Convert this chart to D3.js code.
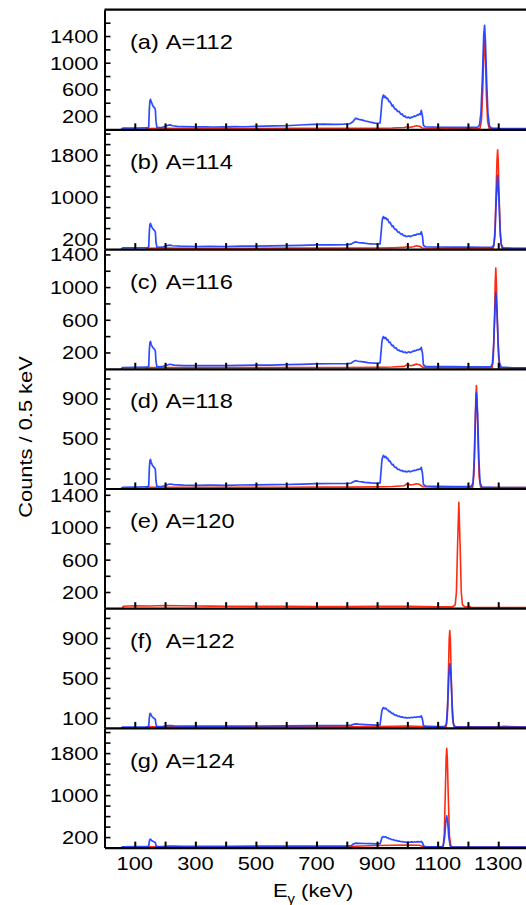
<!DOCTYPE html>
<html>
<head>
<meta charset="utf-8">
<script src="https://cdn.jsdelivr.net/npm/d3@7"></script>
<style>
  html, body { margin: 0; padding: 0; background: #fff; }
  svg { display: block; }
</style>
</head>
<body>
<svg id="chart" width="526" height="905"></svg>
<script>
// ---- axis ticks and labels ----
const energyTicks = [100, 200, 300, 400, 500, 600, 700, 800, 900, 1000, 1100, 1200, 1300];
const energyLabels = [100, 300, 500, 700, 900, 1100, 1300];

// ---- panels ----
const panelTags = ["(a)", "(b)", "(c)", "(d)", "(e)", "(f)", "(g)"];
const massTags = ["A=112", "A=114", "A=116", "A=118", "A=120", "A=122", "A=124"];
const countMax = [1795, 2280, 1465, 1197, 1478, 1197, 2280];
const countStep = [200, 200, 200, 100, 200, 100, 200];
const countLabels = [
  [200, 600, 1000, 1400],
  [200, 1000, 1800],
  [200, 600, 1000, 1400],
  [100, 500, 900],
  [200, 600, 1000, 1400],
  [100, 500, 900],
  [200, 1000, 1800]
];

// ---- spectra: [E (keV), counts / 0.5 keV] ----
const blue112 = [[55,0],[60,18],[100,20],[140,22],[146,35],[148,300],[150,430],[152,450],[154,415],[157,385],[160,350],[163,335],[166,320],[168,290],[170,120],[173,30],[190,28],[200,45],[210,62],[216,68],[225,55],[240,46],[260,42],[300,38],[330,40],[360,36],[400,38],[430,42],[460,40],[500,46],[530,48],[560,52],[600,55],[630,62],[660,70],[690,74],[720,80],[760,76],[790,78],[810,85],[820,115],[826,150],[830,168],[835,158],[840,150],[848,142],[855,135],[862,125],[870,118],[878,108],[885,102],[893,95],[900,92],[910,96],[914,300],[916,420],[918,470],[920,505],[921,515],[923,490],[924,480],[926,500],[928,490],[930,470],[932,460],[934,470],[936,450],[938,430],[940,415],[942,420],[945,395],[947,380],[950,350],[952,365],[955,335],[957,320],[960,300],[963,305],[966,280],[970,265],[973,270],[976,245],[980,225],[983,232],[986,205],[990,195],[993,200],[996,180],[1000,175],[1003,185],[1005,182],[1008,170],[1010,172],[1013,185],[1016,180],[1020,192],[1023,200],[1026,196],[1030,205],[1033,220],[1036,215],[1040,232],[1043,225],[1046,285],[1050,200],[1053,60],[1058,40],[1080,36],[1120,32],[1160,30],[1200,30],[1232,32],[1238,60],[1243,250],[1248,800],[1252,1400],[1255,1560],[1258,1300],[1262,700],[1266,250],[1271,50],[1278,18],[1300,14],[1400,12]];
const red112 = [[135,0],[140,14],[200,15],[300,14],[400,15],[500,14],[600,15],[700,16],[800,16],[900,18],[950,20],[990,28],[1000,40],[1010,32],[1020,42],[1030,55],[1040,48],[1050,20],[1100,15],[1200,13],[1240,14],[1245,150],[1249,600],[1252,1100],[1255,1330],[1258,1050],[1261,500],[1265,120],[1270,15],[1300,10],[1400,10]];

const blue114 = [[55,0],[60,22],[100,24],[140,26],[146,40],[148,330],[150,470],[152,490],[154,450],[157,415],[160,385],[163,365],[166,350],[168,320],[170,130],[173,35],[190,36],[200,55],[210,70],[216,76],[225,64],[250,56],[300,50],[350,52],[400,50],[450,56],[500,58],[550,60],[600,66],[650,72],[700,80],[750,80],[800,84],[815,95],[822,120],[829,138],[835,130],[840,125],[850,118],[860,112],[870,104],[880,100],[890,97],[900,95],[910,100],[914,350],[916,500],[918,580],[920,610],[921,620],[923,590],[925,585],[927,600],[929,595],[931,570],[933,560],[935,570],[938,530],[940,505],[943,510],[946,470],[948,455],[950,430],[953,440],[956,400],[960,372],[963,378],[966,345],[970,320],[973,325],[976,300],[980,282],[983,288],[986,262],[990,252],[993,258],[996,240],[1000,240],[1003,250],[1006,252],[1009,238],[1012,246],[1016,255],[1020,262],[1023,270],[1026,266],[1030,276],[1033,288],[1036,282],[1040,292],[1043,285],[1046,330],[1050,240],[1053,70],[1060,45],[1100,40],[1150,38],[1200,36],[1250,35],[1280,38],[1286,80],[1290,400],[1294,1000],[1298,1404],[1302,1000],[1306,400],[1310,90],[1316,25],[1350,15],[1400,15]];
const red114 = [[135,0],[140,16],[200,18],[300,16],[400,17],[500,16],[600,18],[700,18],[800,18],[900,20],[950,24],[990,32],[1000,48],[1010,36],[1020,46],[1030,62],[1040,55],[1050,22],[1100,16],[1200,14],[1284,16],[1289,250],[1293,1100],[1296,1700],[1298,1893],[1300,1700],[1303,1000],[1307,250],[1312,18],[1350,10],[1400,10]];

const blue116 = [[55,0],[60,16],[100,18],[140,20],[146,30],[148,230],[150,320],[152,335],[154,300],[157,278],[160,258],[163,246],[166,236],[168,215],[170,90],[173,25],[190,26],[200,40],[210,50],[216,56],[230,46],[260,40],[300,38],[350,40],[400,38],[450,42],[500,44],[550,46],[600,50],[650,55],[700,60],[750,62],[800,62],[815,70],[822,90],[829,102],[835,96],[840,92],[850,87],[860,82],[870,76],[880,72],[890,70],[900,68],[910,72],[914,250],[916,330],[918,370],[920,388],[921,395],[923,376],[925,372],[927,385],[929,380],[931,362],[933,352],[935,360],[938,336],[940,322],[943,326],[946,300],[948,292],[950,282],[953,288],[956,265],[960,252],[963,256],[966,236],[970,226],[973,230],[976,216],[980,212],[983,216],[986,204],[990,202],[993,206],[996,196],[1000,198],[1003,205],[1006,208],[1009,198],[1012,202],[1016,210],[1020,216],[1023,222],[1026,218],[1030,226],[1033,234],[1036,230],[1040,240],[1043,236],[1046,262],[1050,190],[1053,50],[1060,30],[1100,28],[1150,26],[1200,25],[1250,25],[1276,28],[1281,60],[1285,300],[1289,700],[1292,934],[1296,700],[1300,300],[1304,70],[1310,20],[1350,12],[1400,12]];
const red116 = [[135,0],[140,14],[200,15],[300,14],[400,15],[500,14],[600,15],[700,16],[800,16],[900,18],[950,22],[990,30],[1000,52],[1010,38],[1020,45],[1030,58],[1040,50],[1050,20],[1100,15],[1200,13],[1280,14],[1284,150],[1288,650],[1290,1050],[1292,1232],[1294,1050],[1297,600],[1301,150],[1306,14],[1350,10],[1400,10]];

const blue118 = [[55,0],[60,12],[100,14],[140,16],[146,25],[148,200],[150,280],[152,290],[154,262],[157,242],[160,224],[163,212],[166,205],[168,185],[170,80],[173,20],[190,20],[200,30],[210,40],[216,45],[230,38],[260,34],[300,32],[350,33],[400,32],[450,35],[500,36],[550,38],[600,40],[650,44],[700,48],[750,50],[800,50],[815,55],[822,68],[829,76],[835,73],[840,70],[850,66],[860,62],[870,59],[880,56],[890,54],[900,52],[910,56],[914,210],[916,280],[918,310],[920,324],[921,330],[923,316],[925,312],[927,322],[929,318],[931,304],[933,298],[935,304],[938,282],[940,272],[943,275],[946,254],[948,246],[950,236],[953,240],[956,222],[960,210],[963,213],[966,198],[970,190],[973,192],[976,182],[980,178],[983,181],[986,172],[990,171],[993,174],[996,166],[1000,168],[1003,173],[1006,175],[1009,167],[1012,170],[1016,175],[1020,178],[1023,183],[1026,180],[1030,185],[1033,191],[1036,188],[1040,195],[1043,192],[1046,212],[1050,150],[1053,40],[1060,25],[1100,22],[1150,20],[1200,20],[1212,24],[1217,60],[1221,300],[1225,750],[1228,957],[1232,750],[1236,300],[1240,60],[1246,15],[1300,10],[1400,10]];
const red118 = [[135,0],[140,12],[200,13],[300,12],[400,13],[500,12],[600,13],[700,14],[800,14],[900,16],[950,20],[990,28],[1000,50],[1010,35],[1020,40],[1030,48],[1040,42],[1050,18],[1100,13],[1200,12],[1216,13],[1220,150],[1224,620],[1226,900],[1228,1030],[1230,900],[1233,520],[1237,120],[1242,12],[1300,9],[1400,9]];

const red120 = [[60,0],[62,25],[100,30],[150,28],[200,33],[250,30],[300,28],[350,26],[400,25],[500,22],[600,22],[700,20],[800,20],[900,22],[1000,22],[1100,18],[1150,18],[1158,40],[1162,200],[1166,800],[1170,1309],[1174,800],[1178,200],[1182,40],[1190,15],[1200,20],[1205,24],[1210,10],[1300,8],[1400,8]];

const blue122 = [[55,0],[60,8],[100,9],[140,10],[146,15],[148,100],[150,140],[152,146],[154,128],[157,114],[160,104],[163,97],[166,92],[168,82],[170,35],[173,12],[190,12],[200,18],[210,22],[216,24],[230,20],[260,18],[300,17],[400,18],[500,19],[600,20],[700,22],[800,24],[815,28],[822,35],[829,40],[840,37],[860,33],[880,30],[900,28],[910,30],[914,130],[916,172],[918,190],[920,200],[921,203],[923,194],[925,192],[927,198],[929,196],[931,187],[933,182],[936,178],[940,162],[943,165],[946,152],[950,142],[953,146],[956,134],[960,126],[964,128],[967,120],[970,116],[974,118],[977,111],[980,108],[984,110],[987,104],[990,103],[994,105],[997,99],[1000,100],[1004,104],[1007,100],[1010,102],[1014,106],[1017,103],[1020,105],[1024,109],[1027,106],[1030,108],[1034,112],[1037,109],[1040,112],[1043,110],[1046,120],[1050,85],[1053,25],[1060,15],[1100,12],[1124,14],[1129,40],[1133,220],[1137,520],[1140,640],[1144,520],[1148,220],[1152,40],[1158,10],[1400,8]];
const red122 = [[135,0],[140,10],[200,10],[300,10],[400,10],[500,10],[600,11],[700,11],[800,12],[900,13],[950,15],[1000,18],[1050,14],[1100,10],[1128,11],[1132,120],[1136,600],[1138,880],[1140,973],[1142,880],[1145,500],[1149,100],[1154,10],[1300,12],[1320,15],[1400,8]];

const blue124 = [[55,0],[60,16],[100,18],[140,20],[146,30],[148,120],[150,155],[152,160],[154,145],[157,130],[160,120],[163,112],[166,105],[168,95],[170,45],[173,20],[190,20],[200,25],[210,30],[230,28],[260,26],[300,25],[400,26],[500,27],[600,28],[700,30],[800,30],[815,38],[822,70],[829,84],[840,82],[860,78],[880,74],[900,72],[910,74],[914,150],[916,185],[918,200],[920,207],[921,210],[923,202],[925,200],[927,206],[929,204],[931,194],[933,188],[936,184],[940,170],[943,172],[946,158],[950,150],[953,153],[956,142],[960,135],[964,137],[967,127],[970,122],[974,124],[977,116],[980,112],[984,114],[987,107],[990,105],[994,107],[997,100],[1000,100],[1004,105],[1007,102],[1010,104],[1014,108],[1017,104],[1020,106],[1024,110],[1027,106],[1030,108],[1034,113],[1037,110],[1040,112],[1043,110],[1046,118],[1050,90],[1054,30],[1060,20],[1100,16],[1114,18],[1119,40],[1123,200],[1127,500],[1130,604],[1133,500],[1137,200],[1141,40],[1147,10],[1400,8]];
const red124 = [[135,0],[140,14],[200,15],[300,14],[400,15],[500,14],[600,15],[700,16],[800,18],[850,30],[900,40],[950,45],[1000,48],[1040,45],[1052,20],[1100,14],[1118,15],[1122,250],[1126,1200],[1128,1700],[1130,1893],[1132,1700],[1135,1000],[1139,220],[1144,14],[1300,10],[1400,10]];

const blueSeries = [blue112, blue114, blue116, blue118, null, blue122, blue124];
const redSeries = [red112, red114, red116, red118, red120, red122, red124];

// ---- layout ----
const FONT = "Helvetica, 'Liberation Sans', Arial, sans-serif";
const STRETCH = 1.15;           // glyphs in the figure are slightly wide
const BLUE = "#1b3dff", RED = "#ff2a10";
const plotLeft = 104.5, plotRight = 528.5;
const firstTop = 9.7, panelH = 119.7;

const svg = d3.select("#chart");
const x = d3.scaleLinear().domain([0, 1400]).range([plotLeft, plotRight]);

function wideText(parent, tx, ty, str, size, anchor, baseline) {
  return parent.append("text")
    .attr("transform", `translate(${tx},${ty}) scale(${STRETCH},1)`)
    .attr("text-anchor", anchor || "start")
    .attr("dominant-baseline", baseline || "auto")
    .style("font-family", FONT)
    .style("font-size", size + "px")
    .attr("fill", "#000")
    .text(str);
}

svg.append("defs").append("clipPath").attr("id", "plotClip")
  .append("rect")
  .attr("x", plotLeft).attr("y", firstTop)
  .attr("width", plotRight - plotLeft).attr("height", panelH * 7);

panelTags.forEach((tag, i) => {
  const top = firstTop + i * panelH;
  const bottom = top + panelH;
  const y = d3.scaleLinear().domain([0, countMax[i]]).range([bottom, top]);
  const g = svg.append("g").attr("class", "panel");
  const line = d3.line().x(d => x(d[0])).y(d => y(d[1]));

  const spectra = g.append("g").attr("clip-path", "url(#plotClip)");
  if (redSeries[i]) {
    spectra.append("path").attr("d", line(redSeries[i]))
      .attr("fill", "none").attr("stroke", RED)
      .attr("stroke-width", 1.6).attr("stroke-linejoin", "round");
  }
  if (blueSeries[i]) {
    spectra.append("path").attr("d", line(blueSeries[i]))
      .attr("fill", "none").attr("stroke", BLUE).attr("stroke-opacity", 0.92)
      .attr("stroke-width", 1.7).attr("stroke-linejoin", "round");
  }

  // energy axis: ticks pointing up into the panel
  const xAxis = d3.axisTop(x).tickValues(energyTicks).tickSize(6).tickSizeOuter(0).tickFormat("");
  const xg = g.append("g").attr("transform", `translate(0,${bottom})`).call(xAxis);
  xg.select(".domain").attr("stroke", "#000").attr("stroke-width", 2.2);
  xg.selectAll(".tick line").attr("stroke", "#000").attr("stroke-width", 2);

  // count axis: ticks pointing right into the panel
  const yTicks = d3.range(countStep[i], countMax[i], countStep[i]);
  const yAxis = d3.axisRight(y).tickValues(yTicks).tickSize(6).tickSizeOuter(0).tickFormat("");
  const yg = g.append("g").attr("transform", `translate(${plotLeft},0)`).call(yAxis);
  yg.select(".domain").attr("stroke", "#000").attr("stroke-width", 2);
  yg.selectAll(".tick line").attr("stroke", "#000").attr("stroke-width", 1.6);

  countLabels[i].forEach(v => {
    wideText(g, 98.5, y(v), String(v), 19, "end", "central");
  });

  // panel tag and mass number
  wideText(g, 130, top + 39.6, tag, 20.5, "start");
  wideText(g, 165.7, top + 39.6, massTags[i], 20.5, "start");
});

// frame top edge
svg.append("line")
  .attr("x1", plotLeft).attr("x2", plotRight)
  .attr("y1", firstTop).attr("y2", firstTop)
  .attr("stroke", "#000").attr("stroke-width", 2.2);

// energy tick labels under the last panel
const lastBottom = firstTop + 7 * panelH;
energyLabels.forEach(v => {
  wideText(svg, x(v), lastBottom + 22.5, String(v), 19, "middle");
});

// axis titles
const xt = svg.append("text")
  .attr("transform", `translate(273,896.5) scale(${STRETCH},1)`)
  .style("font-family", FONT).style("font-size", "19px");
xt.append("tspan").text("E");
xt.append("tspan").attr("dy", 6).style("font-size", "13px").text("γ");
xt.append("tspan").attr("dy", -6).text(" (keV)");

svg.append("text")
  .attr("transform", `translate(32,437) rotate(-90) scale(${STRETCH},1)`)
  .attr("text-anchor", "middle")
  .style("font-family", FONT).style("font-size", "19px")
  .text("Counts / 0.5 keV");
</script>
</body>
</html>
